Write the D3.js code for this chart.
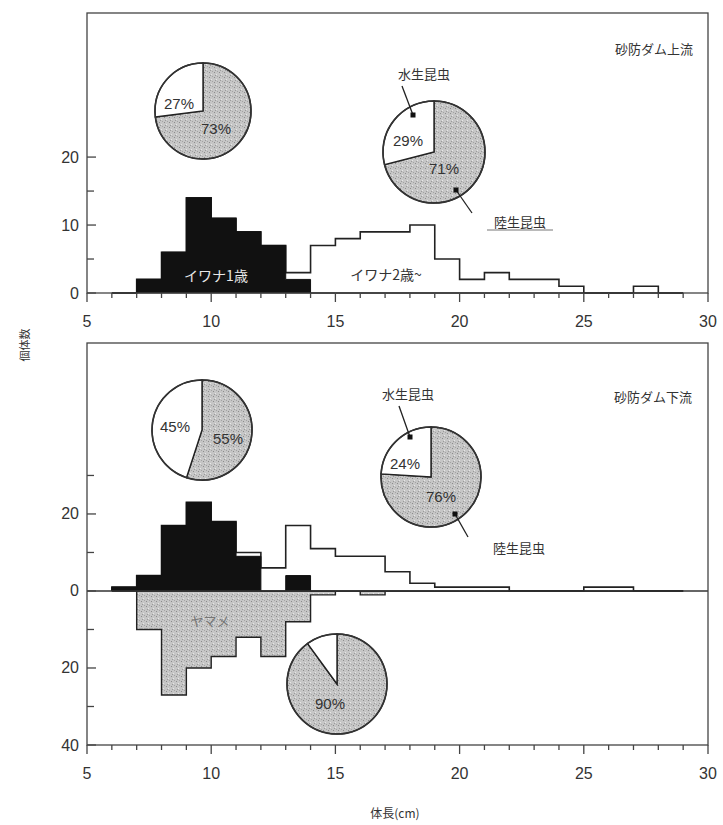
<!DOCTYPE html>
<html>
<head>
<meta charset="utf-8">
<script src="https://cdn.jsdelivr.net/npm/d3@7"></script>
<style>
  body { margin: 0; background: #fff; }
  svg { display: block; }
  .num { font-family: "Liberation Sans", Arial, sans-serif; fill: #333; }
  .jp { font-family: "Noto Sans CJK JP", sans-serif; fill: #333; }
</style>
</head>
<body>
<svg id="chart" width="723" height="825"></svg>
<script>
// 1 cm length classes (lower edge of each bin)
const binStart = [6, 7, 8, 9, 10, 11, 12, 13, 14, 15, 16, 17, 18, 19, 20, 21, 22, 23, 24, 25, 26, 27, 28];

// Upstream of the check dam
const upIwana1 = [0, 2, 6, 14, 11, 9, 7, 2, 0, 0, 0, 0, 0, 0, 0, 0, 0, 0, 0, 0, 0, 0, 0];
const upIwana2 = [0, 0, 0, 0, 0, 0, 0, 1, 7, 8, 9, 9, 10, 5, 2, 3, 2, 2, 1, 0, 0, 1, 0];

// Downstream of the check dam
const dnIwana1 = [1, 4, 17, 23, 18, 9, 0, 4, 0, 0, 0, 0, 0, 0, 0, 0, 0, 0, 0, 0, 0, 0, 0];
const dnIwana2 = [0, 0, 0, 0, 0, 1, 6, 13, 11, 9, 9, 5, 2, 1, 1, 1, 0, 0, 0, 1, 1, 0, 0];
const dnYamame = [0, 10, 27, 20, 17, 12, 17, 8, 1, 0, 1, 0, 0, 0, 0, 0, 0, 0, 0, 0, 0, 0, 0];

// Diet composition (%): [terrestrial insects, aquatic insects]
const pieUpIwana1 = [73, 27];
const pieUpIwana2 = [71, 29];
const pieDnIwana1 = [55, 45];
const pieDnIwana2 = [76, 24];
const pieDnYamame = [90, 10];

const xTicks = [5, 10, 15, 20, 25, 30];
const upYTickLabels = [0, 10, 20];
const dnYTickLabels = [40, 20, 0, 20];

const svg = d3.select("#chart");
const ink = "#222";

// stippled grey fill
const defs = svg.append("defs");
const pat = defs.append("pattern").attr("id", "stip")
  .attr("width", 5).attr("height", 5).attr("patternUnits", "userSpaceOnUse");
pat.append("rect").attr("width", 5).attr("height", 5).attr("fill", "#c6c6c6");
pat.append("rect").attr("x", 1).attr("y", 1).attr("width", 1).attr("height", 1).attr("fill", "#8c8c8c");
pat.append("rect").attr("x", 3).attr("y", 3).attr("width", 1).attr("height", 1).attr("fill", "#e6e6e6");
pat.append("rect").attr("x", 4).attr("y", 0).attr("width", 1).attr("height", 1).attr("fill", "#a4a4a4");
pat.append("rect").attr("x", 2).attr("y", 4).attr("width", 1).attr("height", 1).attr("fill", "#9a9a9a");

const x = d3.scaleLinear().domain([5, 30]).range([87, 708]);
const yUp = d3.scaleLinear().domain([0, 41.2]).range([293, 13]);
const yDn = d3.scaleLinear().domain([-40, 64.4]).range([745, 343]);

// Step outline points for a histogram series
function stepPoints(vals, sign) {
  const pts = [[binStart[0], 0]];
  binStart.forEach((b, i) => pts.push([b, sign * vals[i]]));
  pts.push([binStart[binStart.length - 1] + 1, 0]);
  return pts;
}

function histArea(y, vals, sign) {
  return d3.area().curve(d3.curveStepAfter)
    .x(d => x(d[0])).y0(y(0)).y1(d => y(d[1]))(stepPoints(vals, sign));
}
function histLine(y, vals, sign) {
  return d3.line().curve(d3.curveStepAfter)
    .x(d => x(d[0])).y(d => y(d[1]))(stepPoints(vals, sign));
}

function frame(y, y0, y1) {
  const g = svg.append("g");
  g.append("rect").attr("x", x(5)).attr("y", y(y1))
    .attr("width", x(30) - x(5)).attr("height", y(y0) - y(y1))
    .attr("fill", "none").attr("stroke", "#444").attr("stroke-width", 1.3);
  return g;
}

function xAxis(yPix) {
  const g = svg.append("g").attr("transform", `translate(0,${yPix})`);
  const minor = d3.range(5, 31, 1);
  g.selectAll("line.t").data(minor).join("line")
    .attr("x1", d => x(d)).attr("x2", d => x(d))
    .attr("y1", 0).attr("y2", d => d % 5 === 0 ? 9 : 5)
    .attr("stroke", "#444").attr("stroke-width", 1.3);
  g.selectAll("text").data(xTicks).join("text").attr("class", "num")
    .attr("x", d => x(d)).attr("y", 34).attr("text-anchor", "middle")
    .attr("font-size", 16).text(d => d);
}

function yTicks(y, vals, major) {
  svg.append("g").selectAll("line").data(vals).join("line")
    .attr("x1", x(5)).attr("x2", d => x(5) + (major.includes(d) ? 9 : 7))
    .attr("y1", d => y(d)).attr("y2", d => y(d))
    .attr("stroke", "#444").attr("stroke-width", 1.3);
}

function pie(cx, cy, r, vals) {
  const g = svg.append("g").attr("transform", `translate(${cx},${cy})`);
  const arcs = d3.pie().sort(null).startAngle(0).endAngle(2 * Math.PI)(vals);
  const arc = d3.arc().innerRadius(0).outerRadius(r);
  g.selectAll("path").data(arcs).join("path")
    .attr("d", arc)
    .attr("fill", (d, i) => i === 0 ? "url(#stip)" : "#fff")
    .attr("stroke", ink).attr("stroke-width", 1.4);
  g.append("circle").attr("r", r).attr("fill", "none").attr("stroke", "#333").attr("stroke-width", 1.6);
  return g;
}

function label(g, text, dx, dy, size) {
  g.append("text").attr("class", "num").attr("x", dx).attr("y", dy)
    .attr("text-anchor", "middle").attr("dominant-baseline", "central")
    .attr("font-size", size || 15).text(text);
}

function pointer(x1, y1, x2, y2) {
  svg.append("line").attr("x1", x1).attr("y1", y1).attr("x2", x2).attr("y2", y2)
    .attr("stroke", ink).attr("stroke-width", 1.3);
  svg.append("rect").attr("x", x2 - 2.5).attr("y", y2 - 2.5).attr("width", 5).attr("height", 5).attr("fill", "#111");
}

function jpText(t, px, py, size, anchor) {
  return svg.append("text").attr("class", "jp").attr("x", px).attr("y", py)
    .attr("text-anchor", anchor || "middle").attr("dominant-baseline", "central")
    .attr("font-size", size).text(t);
}

// ---------- upper panel ----------
const upTotal = upIwana1.map((v, i) => v + upIwana2[i]);
svg.append("path").attr("d", histArea(yUp, upTotal, 1)).attr("fill", "#fff");
svg.append("path").attr("d", histLine(yUp, upTotal, 1)).attr("fill", "none")
  .attr("stroke", ink).attr("stroke-width", 1.6);
svg.append("path").attr("d", histArea(yUp, upIwana1, 1)).attr("fill", "#111")
  .attr("stroke", "#111").attr("stroke-width", 1);
frame(yUp, 0, 41.2);
xAxis(yUp(0));
yTicks(yUp, [0, 5, 10, 15, 20], [0, 10, 20]);
svg.append("g").selectAll("text").data(upYTickLabels).join("text").attr("class", "num")
  .attr("x", 79).attr("y", d => yUp(d)).attr("dominant-baseline", "central")
  .attr("text-anchor", "end").attr("font-size", 16).text(d => d);

jpText("イワナ1歳", 216, 275, 14).style("fill", "#e8e8e8");
jpText("イワナ2歳~", 386, 274, 14);
jpText("砂防ダム上流", 693, 48, 13, "end");

const p1 = pie(203, 111, 48, pieUpIwana1);
label(p1, "27%", -24, -8);
label(p1, "73%", 13, 17);

const p2 = pie(434, 152, 51, pieUpIwana2);
label(p2, "29%", -26, -12);
label(p2, "71%", 10, 16);
jpText("水生昆虫", 424, 73, 13);
pointer(402, 86, 413, 115);
jpText("陸生昆虫", 520, 221, 13);
svg.append("line").attr("x1", 487).attr("x2", 553).attr("y1", 230).attr("y2", 230)
  .attr("stroke", "#777").attr("stroke-width", 1);
pointer(472, 213, 456, 190);

// ---------- lower panel ----------
const dnTotal = dnIwana1.map((v, i) => v + dnIwana2[i]);
svg.append("path").attr("d", histArea(yDn, dnYamame, -1)).attr("fill", "url(#stip)")
  .attr("stroke", ink).attr("stroke-width", 1.4);
svg.append("path").attr("d", histArea(yDn, dnTotal, 1)).attr("fill", "#fff");
svg.append("path").attr("d", histLine(yDn, dnTotal, 1)).attr("fill", "none")
  .attr("stroke", ink).attr("stroke-width", 1.6);
svg.append("path").attr("d", histArea(yDn, dnIwana1, 1)).attr("fill", "#111")
  .attr("stroke", "#111").attr("stroke-width", 1);
svg.append("line").attr("x1", x(5)).attr("x2", x(30)).attr("y1", yDn(0)).attr("y2", yDn(0))
  .attr("stroke", "#333").attr("stroke-width", 1.4);
frame(yDn, -40, 64.4);
xAxis(yDn(-40));
yTicks(yDn, [-40, -30, -20, -10, 0, 10, 20, 30], [-40, -20, 0, 20]);
svg.append("g").selectAll("text").data([-40, -20, 0, 20]).join("text").attr("class", "num")
  .attr("x", 79).attr("y", d => yDn(d)).attr("dominant-baseline", "central")
  .attr("text-anchor", "end").attr("font-size", 16).text((d, i) => dnYTickLabels[i]);

jpText("ヤマメ", 210, 620, 13).style("fill", "#777");
jpText("砂防ダム下流", 692, 396, 13, "end");

const p3 = pie(202, 430, 50, pieDnIwana1);
label(p3, "45%", -27, -4);
label(p3, "55%", 26, 8);

const p4 = pie(431, 477, 50, pieDnIwana2);
label(p4, "24%", -26, -14);
label(p4, "76%", 10, 19);
jpText("水生昆虫", 408, 393, 13);
pointer(399, 406, 410, 437);
jpText("陸生昆虫", 519, 547, 13);
pointer(468, 537, 455, 514);

const p5 = pie(337, 684, 50, pieDnYamame);
label(p5, "90%", -7, 19);

// axis titles
svg.append("text").attr("class", "jp").attr("transform", "translate(24,345) rotate(-90)")
  .attr("text-anchor", "middle").attr("dominant-baseline", "central")
  .attr("font-size", 11).text("個体数");
jpText("体長(cm)", 395, 812, 12);
</script>
</body>
</html>
